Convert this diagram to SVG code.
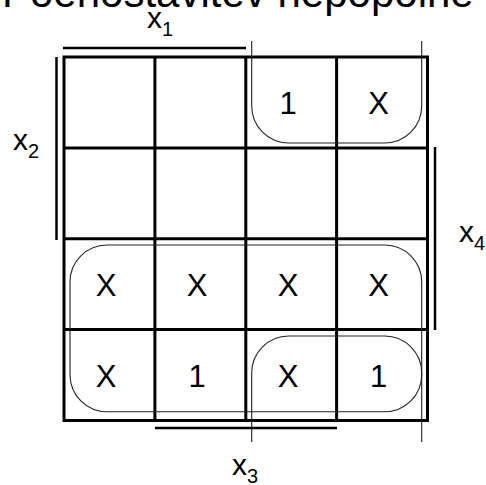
<svg xmlns="http://www.w3.org/2000/svg" width="486" height="485" viewBox="0 0 486 485">
<style>
.t{font-family:"Liberation Sans",Arial,sans-serif;fill:#000}
.cell{font-size:31px;text-anchor:middle}
.lab{font-size:30px}
.sub{font-size:20px}
.grid{stroke:#000;stroke-width:3;fill:none}
.bar{stroke:#000;stroke-width:2.5;fill:none}
.loop{stroke:#222;stroke-width:1.1;fill:none}
</style>
<rect width="486" height="485" fill="#fff"/>
<text class="t" x="2" y="7" font-size="42">Poenostavitev nepopolne</text>
<g id="grid">
<rect class="grid" x="64" y="57" width="363.5" height="363.5"/>
<path class="grid" d="M154.9,57V420.5M245.8,57V420.5M336.6,57V420.5M64,147.9H427.5M64,238.8H427.5M64,329.6H427.5"/>
</g>
<g id="bars">
<path class="bar" d="M63,48H246M56.5,57V240M435,147V330M155,428H337"/>
</g>
<g id="labels">
<text class="t lab" x="147" y="28">x<tspan class="sub" dy="8">1</tspan></text>
<text class="t lab" x="13" y="150">x<tspan class="sub" dy="8">2</tspan></text>
<text class="t lab" x="459" y="242">x<tspan class="sub" dy="8">4</tspan></text>
<text class="t lab" x="232" y="475">x<tspan class="sub" dy="8">3</tspan></text>
</g>
<g id="cells">
<text class="t cell" x="288" y="114">1</text>
<text class="t cell" x="378.5" y="114">X</text>
<text class="t cell" x="106" y="296">X</text>
<text class="t cell" x="197" y="296">X</text>
<text class="t cell" x="288" y="296">X</text>
<text class="t cell" x="378.5" y="296">X</text>
<text class="t cell" x="106" y="387">X</text>
<text class="t cell" x="197" y="387">1</text>
<text class="t cell" x="288" y="387">X</text>
<text class="t cell" x="378.5" y="387">1</text>
</g>
<g id="loops">
<rect class="loop" x="70" y="245" width="351.7" height="166.7" rx="37" ry="37"/>
<path class="loop" d="M251.7,41V106A37,37 0 0 0 288.7,143H384.7A37,37 0 0 0 421.7,106V41"/>
<path class="loop" d="M251.7,442V373A37,37 0 0 1 288.7,336H384.7A37,37 0 0 1 421.7,373V442"/>
</g>
</svg>
